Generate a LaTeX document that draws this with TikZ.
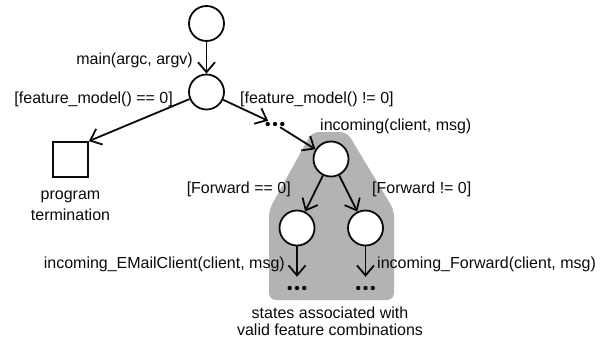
\documentclass[tikz,border=0pt]{standalone}
\usepackage{fontspec}
\setmainfont{Liberation Sans}
\usetikzlibrary{arrows.meta}
\definecolor{regiongray}{RGB}{179,179,179}
\definecolor{ink}{RGB}{10,10,10}
\begin{document}
\begin{tikzpicture}[x=1pt,y=-1pt,
  state/.style={circle,draw=ink,line width=1.8pt,fill=white,minimum size=35pt,inner sep=0pt},
  termbox/.style={rectangle,draw=ink,line width=1.8pt,minimum size=35pt,inner sep=0pt},
  dotsbox/.style={inner sep=0pt,minimum width=20pt,minimum height=6pt},
  edge/.style={draw=ink,line width=1.8pt,-{Straight Barb[length=10pt,width=17pt,line width=1.8pt]}},
  lbl/.style={font=\fontsize{16}{19}\selectfont,text=ink,inner sep=0pt},
]
\useasboundingbox (0,0) rectangle (604,341);
% gray region
\fill[regiongray,rounded corners=7pt] (269,300) -- (269,210) -- (312,132) -- (347,132) -- (394,210) -- (394,300) -- cycle;

% states
\node[state] (s0) at (206.5,23.5) {};
\node[state] (s1) at (206.5,92) {};
\node[termbox] (term) at (70.5,159.5) {};
\node[dotsbox] (d1) at (275,124) {};
\node[state] (s2) at (331,159) {};
\node[state] (s3) at (297,228) {};
\node[state] (s4) at (365.5,228) {};
\node[dotsbox] (d2) at (297,288) {};
\node[dotsbox] (d3) at (365.5,288) {};

\foreach \n in {d1,d2,d3}{
  \foreach \dx in {-7.3,0,7.3}{
    \fill[ink] (\n.center) ++(\dx,0) circle (2.2pt);
  }
}

% edges
\draw[edge] (s0) -- (s1);
\draw[edge] (s1) -- (term.north east);
\draw[edge] (s1) -- (d1);
\draw[edge] (d1) -- (s2);
\draw[edge] (s2) -- (s3);
\draw[edge] (s2) -- (s4);
\draw[edge,shorten >=8pt] (s3) -- (d2.north);
\draw[edge,shorten >=8pt] (s4) -- (d3.north);

% labels
\node[lbl,anchor=base east] (lmain) at (193,64.5) {main(argc, argv)};
\node[lbl,anchor=base east] (lfm0) at (173,103.5) {[feature\_model() == 0]};
\node[lbl,anchor=base west] (lfm1) at (240,103.5) {[feature\_model() != 0]};
\node[lbl,anchor=base west] (linc) at (320,130.5) {incoming(client, msg)};
\node[lbl,anchor=base east] (lfw0) at (291,193.5) {[Forward == 0]};
\node[lbl,anchor=base west] (lfw1) at (372,193.5) {[Forward != 0]};
\node[lbl,anchor=base east] (lem) at (285,268.5) {incoming\_EMailClient(client, msg)};
\node[lbl,anchor=base west] (lfwd) at (377,268.5) {incoming\_Forward(client, msg)};
\node[lbl,anchor=base] (lprog) at (70.5,199.5) {program};
\node[lbl,anchor=base] (lterm) at (70.5,220.5) {termination};
\node[lbl,anchor=base] (lst1) at (330,318.5) {states associated with};
\node[lbl,anchor=base] (lst2) at (330,335) {valid feature combinations};
\end{tikzpicture}
\end{document}
